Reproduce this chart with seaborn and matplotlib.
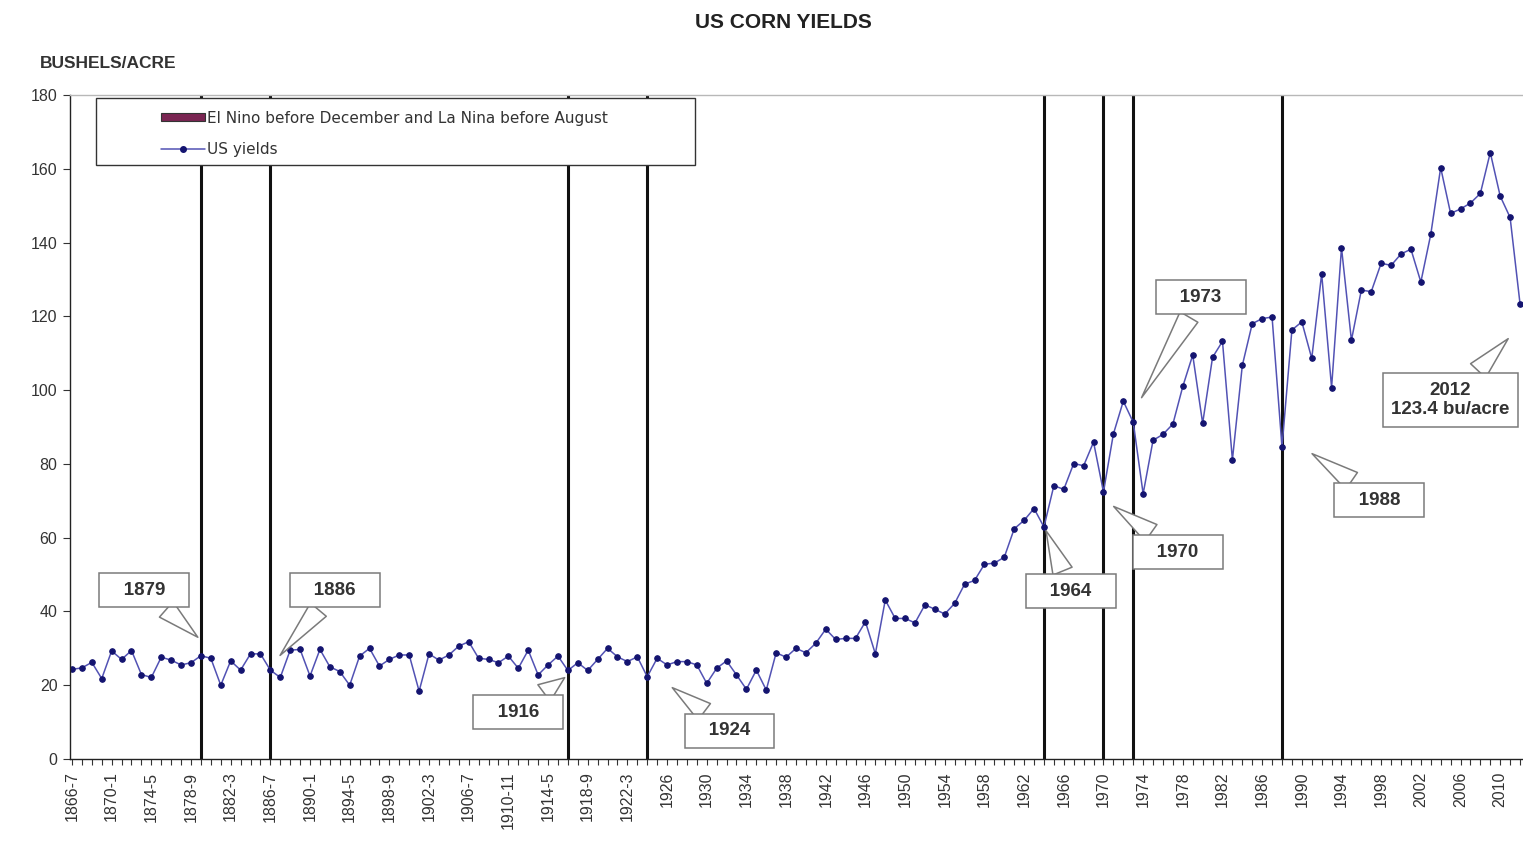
import numpy as np
import pandas as pd
import matplotlib
matplotlib.use("Agg")
import matplotlib.pyplot as plt
from matplotlib.patches import Patch, Rectangle
from matplotlib.lines import Line2D
import seaborn as sns

# ---------------- data ----------------
start_year = 1866
yields = [
    24.3, 24.7, 26.2, 21.8,                                           # 1866-1869
    29.3, 27.0, 29.4, 22.9, 22.1, 27.6, 26.8, 25.5, 26.1, 28.0,       # 1870s
    27.3, 20.0, 26.6, 24.1, 28.5, 28.5, 24.1, 22.1, 29.5, 29.7,       # 1880s
    22.5, 29.7, 25.0, 23.7, 20.0, 27.9, 30.0, 25.2, 27.0, 28.2,       # 1890s
    28.2, 18.4, 28.5, 26.8, 28.2, 30.6, 31.8, 27.3, 27.0, 26.1,       # 1900s
    27.9, 24.6, 29.5, 22.8, 25.5, 27.9, 24.0, 26.1, 24.0, 27.0,       # 1910s
    30.0, 27.7, 26.4, 27.7, 22.3, 27.3, 25.5, 26.4, 26.4, 25.5,       # 1920s
    20.5, 24.6, 26.6, 22.8, 18.9, 24.1, 18.7, 28.8, 27.6, 30.0,       # 1930s
    28.8, 31.4, 35.2, 32.4, 32.7, 32.7, 37.2, 28.5, 43.1, 38.1,       # 1940s
    38.1, 36.9, 41.8, 40.6, 39.3, 42.2, 47.4, 48.4, 52.8, 53.1,       # 1950s
    54.7, 62.4, 64.7, 67.9, 62.9, 74.1, 73.1, 80.1, 79.5, 85.9,       # 1960s
    72.4, 88.1, 97.0, 91.3, 71.9, 86.4, 88.0, 90.8, 101.0, 109.5,     # 1970s
    91.0, 108.9, 113.2, 81.1, 106.7, 118.0, 119.4, 119.8, 84.6, 116.3,  # 1980s
    118.5, 108.6, 131.5, 100.7, 138.6, 113.5, 127.1, 126.7, 134.4, 133.8,  # 1990s
    136.9, 138.2, 129.3, 142.2, 160.3, 147.9, 149.1, 150.7, 153.3, 164.4,  # 2000s
    152.6, 146.8, 123.4,                                              # 2010-2012
]
years = list(range(start_year, start_year + len(yields)))

event_years = [1879, 1886, 1916, 1924, 1964, 1970, 1973, 1988]
event_labels = ["1879", "1886", "1916", "1924", "1964", "1970", "1973", "1988"]
last_label = "2012\n123.4 bu/acre"

tick_labels = ["1866-7", "1870-1", "1874-5", "1878-9", "1882-3", "1886-7", "1890-1",
               "1894-5", "1898-9", "1902-3", "1906-7", "1910-11", "1914-5", "1918-9",
               "1922-3", "1926", "1930", "1934", "1938", "1942", "1946", "1950",
               "1954", "1958", "1962", "1966", "1970", "1974", "1978", "1982",
               "1986", "1990", "1994", "1998", "2002", "2006", "2010"]

title = "US CORN YIELDS"
unit_label = "BUSHELS/ACRE"
legend_bar = "El Nino before December and La Nina before August"
legend_line = "US yields"

df = pd.DataFrame({"year": years, "yield": yields})

# ---------------- style ----------------
sns.set_style("white")
plt.rcParams["font.family"] = ["Liberation Sans", "DejaVu Sans"]

W, H = 1523, 843
fig = plt.figure(figsize=(W / 100, H / 100), dpi=100)
ax = fig.add_axes([70 / W, 1 - 759 / H, 1453 / W, 664 / H])

# event vertical lines
ax.vlines(event_years, 0, 180, colors="#111111", lw=2.2, zorder=1)

sns.lineplot(data=df, x="year", y="yield", ax=ax, color="#5252b4", lw=1.1,
             marker="o", markersize=4, markerfacecolor="#141470",
             markeredgecolor="#141470", zorder=2, legend=False)

ax.set_xlim(1865.8, 2012.3)
ax.set_ylim(0, 180)
ax.set_yticks(np.arange(0, 181, 20))
ax.set_xticks(years[::4])
ax.set_xticklabels(tick_labels, rotation=90, fontsize=11.5, color="#333333")
ax.set_xticks(years, minor=True)
ax.tick_params(axis="x", which="both", direction="out", length=4, width=0.8,
               color="#333333", bottom=True, pad=5)
ax.tick_params(axis="y", direction="out", length=5, width=0.8, color="#333333",
               left=True, labelsize=11.5, labelcolor="#333333", pad=4)
ax.set_xlabel("")
ax.set_ylabel("")

for s in ["left", "bottom"]:
    ax.spines[s].set_color("#222222")
    ax.spines[s].set_linewidth(1.0)
ax.spines["top"].set_color("#b8b8b8")
ax.spines["top"].set_linewidth(1.0)
ax.spines["right"].set_visible(False)

# legend with manual frame
frame = Rectangle((26 / 1453, 1 - 67 / 664 - 3 / 664), 599 / 1453, 67 / 664,
                  transform=ax.transAxes, fc="white", ec="#333333", lw=1.0, zorder=4)
ax.add_patch(frame)
handles = [Patch(facecolor="#7a2552", edgecolor="#333333", lw=0.8),
           Line2D([], [], color="#5252b4", lw=1.1, marker="o", markersize=4,
                  markerfacecolor="#141470", markeredgecolor="#141470")]
leg = ax.legend(handles, [legend_bar, legend_line], loc="upper left",
                bbox_to_anchor=(80 / 1453, 1 - 5 / 664), frameon=False,
                handlelength=2.9, handleheight=0.45, handletextpad=0.15,
                labelspacing=1.05, borderpad=0.2,
                prop={"family": "DejaVu Sans", "size": 11})
for t in leg.get_texts():
    t.set_color("#333333")
leg.set_zorder(5)

# callouts
def callout(text, tip, pos, ha="center"):
    ax.annotate(text, xy=tip, xytext=pos, textcoords="data", ha=ha, va="center",
                fontsize=13.5, fontweight="bold", color="#333333", zorder=6,
                annotation_clip=False,
                bbox=dict(boxstyle="square,pad=0.45", fc="white", ec="#7a7a7a", lw=1.1),
                arrowprops=dict(arrowstyle="wedge,tail_width=1.1,shrink_factor=0.5",
                                fc="white", ec="#7a7a7a", lw=1.1))

tips = {"1879": (1878.9, 32.5), "1886": (1886.8, 27.5), "1916": (1915.9, 22.5),
        "1924": (1926.3, 19.8), "1964": (1964.1, 62.6), "1970": (1970.8, 68.9),
        "1973": (1973.7, 97.3), "1988": (1990.8, 83.2)}
boxes = {"1879": (1873.3, 45.8), "1886": (1892.5, 45.8), "1916": (1911.0, 12.7),
         "1924": (1932.3, 7.6), "1964": (1966.7, 45.5), "1970": (1977.5, 56.1),
         "1973": (1979.8, 125.2), "1988": (1997.8, 70.2)}
for lab in event_labels:
    callout("   " + lab + "   ", tips[lab], boxes[lab])
callout(last_label, (2011.0, 114.5), (2005.0, 97.3))

fig.text(783 / W, 1 - 22 / H, title, ha="center", va="center", fontsize=15,
         fontweight="bold", color="#222222")
fig.text(40 / W, 1 - 64 / H, unit_label, ha="left", va="center", fontsize=12.5,
         fontweight="bold", color="#333333")

fig.savefig("out.png", dpi=100, facecolor="white")
